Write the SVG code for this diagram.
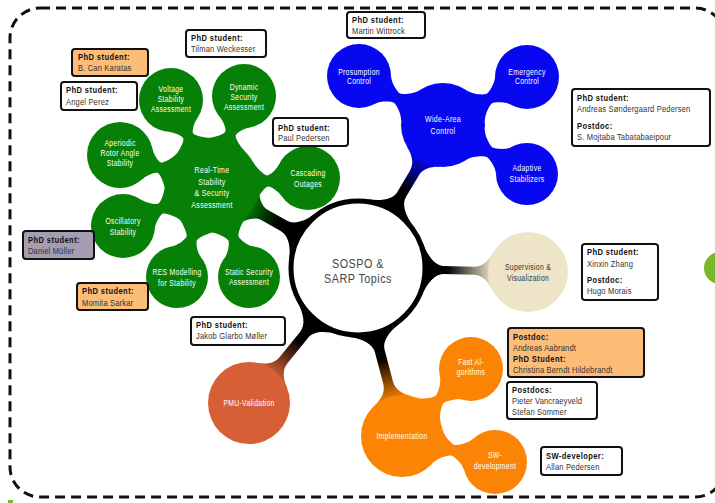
<svg xmlns="http://www.w3.org/2000/svg" width="715" height="503" viewBox="0 0 715 503">
  <style>
    .lbl { font-family: "Liberation Sans", Arial, sans-serif; }
    .nt { fill: #ffffff; font-size: 9px; text-anchor: middle; letter-spacing: 0.4px; }
    .box { fill: #ffffff; stroke: #111111; stroke-width: 2; }
    .box-or { fill: #fbbd78; }
    .box-pu { fill: #a59db2; }
    .hd { fill: #111111; font-size: 9px; font-weight: bold; letter-spacing: 0.5px; }
    .nm { fill: #333333; font-size: 9px; letter-spacing: 0.2px; }
    .green { fill: #078007; }
    .blue { fill: #0707f0; }
    .orange { fill: #fb8404; }
  </style>
  <defs>
    <linearGradient id="gGreen" x1="0" y1="0" x2="1" y2="0">
      <stop offset="0" stop-color="#000"/><stop offset="0.45" stop-color="#000"/><stop offset="1" stop-color="#078007"/>
    </linearGradient>
    <linearGradient id="gBlue" x1="0" y1="0" x2="1" y2="0">
      <stop offset="0" stop-color="#000"/><stop offset="0.4" stop-color="#000"/><stop offset="1" stop-color="#0707f0"/>
    </linearGradient>
    <linearGradient id="gBeige" x1="0" y1="0" x2="1" y2="0">
      <stop offset="0" stop-color="#000"/><stop offset="0.35" stop-color="#000"/><stop offset="1" stop-color="#eee5c9"/>
    </linearGradient>
    <linearGradient id="gPmu" x1="0" y1="0" x2="1" y2="0">
      <stop offset="0" stop-color="#000"/><stop offset="0.4" stop-color="#000"/><stop offset="1" stop-color="#d65f36"/>
    </linearGradient>
    <linearGradient id="gOrange" x1="0" y1="0" x2="1" y2="0">
      <stop offset="0" stop-color="#000"/><stop offset="0.4" stop-color="#000"/><stop offset="1" stop-color="#fb8404"/>
    </linearGradient>
  </defs>

  <!-- dashed frame -->
  <rect x="10" y="8" width="715" height="489" rx="30" fill="none" stroke="#111" stroke-width="3" stroke-dasharray="10 6"/>
  <circle cx="720" cy="268" r="16" fill="#79b828"/>
  <rect x="8" y="500" width="5" height="3" fill="#79b828"/>

  <!-- connectors: each neck is drawn along +x from the parent centre, then rotated into place -->
  <g id="connectors">
    <!-- from the central topic -->
    <path transform="translate(358 268) rotate(-150.4)" fill="url(#gGreen)" d="M64.4,-26C69.7,-13 77.5,-6 85.5,-6L106.9,-6C114.9,-6 121.7,-13.2 126.4,-22L126.4,22C121.7,13.2 114.9,6 106.9,6L85.5,6C77.5,6 69.7,13 64.4,26Z"/>
    <path transform="translate(358 268) rotate(-59.3)" fill="url(#gBlue)" d="M64.4,-26C69.7,-13 77.5,-5 85.5,-5L110.4,-5C118.4,-5 124.6,-10.9 129.3,-19.7L129.3,19.7C124.6,10.9 118.4,5 110.4,5L85.5,5C77.5,5 69.7,13 64.4,26Z"/>
    <path transform="translate(358 268) rotate(1.35)" fill="url(#gBeige)" d="M64.4,-26C69.7,-13 77.5,-4 85.5,-4L116,-4C124,-4 130,-10 134.7,-18.8L134.7,18.8C130,10 124,4 116,4L85.5,4C77.5,4 69.7,13 64.4,26Z"/>
    <path transform="translate(358 268) rotate(128.9)" fill="url(#gPmu)" d="M64.4,-26C69.7,-13 77.5,-5 85.5,-5L118.5,-5C126.5,-5 132.6,-10.4 137.3,-19.2L137.3,19.2C132.6,10.4 126.5,5 118.5,5L85.5,5C77.5,5 69.7,13 64.4,26Z"/>
    <path transform="translate(358 268) rotate(75.3)" fill="url(#gOrange)" d="M64.4,-26C69.7,-13 77.5,-5 85.5,-5L118.7,-5C126.7,-5 132.8,-10.4 137.5,-19.2L137.5,19.2C132.8,10.4 126.7,5 118.7,5L85.5,5C77.5,5 69.7,13 64.4,26Z"/>
    <!-- stability branch -->
    <g class="green">
      <path transform="translate(212 185) rotate(-115.8)" d="M42.6,-19.9C45.1,-14.5 51.7,-5.5 54.7,-5.5C57.7,-5.5 63.7,-10.8 66.7,-16L66.7,16C63.7,10.8 57.7,5.5 54.7,5.5C51.7,5.5 45.1,14.5 42.6,19.9Z"/>
      <path transform="translate(212 185) rotate(-70.2)" d="M42.6,-19.9C45.1,-14.5 51.8,-5.5 54.8,-5.5C57.8,-5.5 63.9,-10.8 66.9,-16L66.9,16C63.9,10.8 57.8,5.5 54.8,5.5C51.8,5.5 45.1,14.5 42.6,19.9Z"/>
      <path transform="translate(212 185) rotate(-161.9)" d="M42.6,-19.9C45.1,-14.5 52.4,-5.5 55.4,-5.5C58.4,-5.5 65.2,-11.3 68.2,-16.5L68.2,16.5C65.2,11.3 58.4,5.5 55.4,5.5C52.4,5.5 45.1,14.5 42.6,19.9Z"/>
      <path transform="translate(212 185) rotate(-4.2)" d="M42.6,-19.9C45.1,-14.5 52.7,-5.5 55.7,-5.5C58.7,-5.5 65.6,-10.8 68.6,-16L68.6,16C65.6,10.8 58.7,5.5 55.7,5.5C52.7,5.5 45.1,14.5 42.6,19.9Z"/>
      <path transform="translate(212 185) rotate(155.3)" d="M42.6,-19.9C45.1,-14.5 53.5,-5.5 56.5,-5.5C59.5,-5.5 67.3,-10.8 70.3,-16L70.3,16C67.3,10.8 59.5,5.5 56.5,5.5C53.5,5.5 45.1,14.5 42.6,19.9Z"/>
      <path transform="translate(212 185) rotate(110.8)" d="M42.6,-19.9C45.1,-14.5 54.2,-5.5 57.2,-5.5C60.2,-5.5 68.6,-10.3 71.6,-15.5L71.6,15.5C68.6,10.3 60.2,5.5 57.2,5.5C54.2,5.5 45.1,14.5 42.6,19.9Z"/>
      <path transform="translate(212 185) rotate(68.1)" d="M42.6,-19.9C45.1,-14.5 54.6,-5.5 57.6,-5.5C60.6,-5.5 69.4,-10.3 72.4,-15.5L72.4,15.5C69.4,10.3 60.6,5.5 57.6,5.5C54.6,5.5 45.1,14.5 42.6,19.9Z"/>
    </g>
    <!-- control branch -->
    <g class="blue">
      <path transform="translate(443 125) rotate(-149.7)" d="M38.1,-17.7C40.6,-12.3 50.6,-5.5 53.6,-5.5C56.6,-5.5 66.5,-10.8 69.5,-16L69.5,16C66.5,10.8 56.6,5.5 53.6,5.5C50.6,5.5 40.6,12.3 38.1,17.7Z"/>
      <path transform="translate(443 125) rotate(-29.7)" d="M38.1,-17.7C40.6,-12.3 50.4,-5.5 53.4,-5.5C56.4,-5.5 66,-10.8 69,-16L69,16C66,10.8 56.4,5.5 53.4,5.5C50.4,5.5 40.6,12.3 38.1,17.7Z"/>
      <path transform="translate(443 125) rotate(30.3)" d="M38.1,-17.7C40.6,-12.3 51.1,-5.5 54.1,-5.5C57.1,-5.5 67.4,-10.3 70.4,-15.5L70.4,15.5C67.4,10.3 57.1,5.5 54.1,5.5C51.1,5.5 40.6,12.3 38.1,17.7Z"/>
    </g>
    <!-- implementation branch -->
    <g class="orange">
      <path transform="translate(402 436) rotate(-44.2)" d="M37.2,-17.3C39.7,-11.9 49.6,-5.5 52.6,-5.5C55.6,-5.5 65.5,-10.8 68.5,-16L68.5,16C65.5,10.8 55.6,5.5 52.6,5.5C49.6,5.5 39.7,11.9 37.2,17.3Z"/>
      <path transform="translate(402 436) rotate(15.6)" d="M37.2,-17.3C39.7,-11.9 49.8,-5.5 52.8,-5.5C55.8,-5.5 65.9,-10.8 68.9,-16L68.9,16C65.9,10.8 55.8,5.5 52.8,5.5C49.8,5.5 39.7,11.9 37.2,17.3Z"/>
    </g>
  </g>

  <!-- central topic -->
  <g id="sospo-sarp" class="lbl">
    <circle cx="358" cy="268" r="67" fill="#fff" stroke="#000" stroke-width="5"/>
    <text transform="translate(358 268) scale(0.8 1)" font-size="13.5" fill="#444" text-anchor="middle" letter-spacing="0.6"><tspan x="0" y="0">SOSPO &amp;</tspan><tspan x="0" y="15">SARP Topics</tspan></text>
  </g>

  <!-- stability branch nodes -->
  <g id="real-time" class="lbl">
    <circle class="green" cx="212" cy="185" r="47"/>
    <text class="nt" font-size="9.5" transform="translate(212 185) scale(0.78 1)"><tspan x="0" y="-12">Real-Time</tspan><tspan x="0" y="0">Stability</tspan><tspan x="0" y="11">&amp; Security</tspan><tspan x="0" y="23">Assessment</tspan></text>
  </g>
  <g id="voltage" class="lbl">
    <circle class="green" cx="171" cy="100" r="32"/>
    <text class="nt" transform="translate(171 100) scale(0.76 1)"><tspan x="0" y="-8">Voltage</tspan><tspan x="0" y="2">Stability</tspan><tspan x="0" y="12">Assessment</tspan></text>
  </g>
  <g id="dynamic" class="lbl">
    <circle class="green" cx="244" cy="96" r="32"/>
    <text class="nt" transform="translate(244 96) scale(0.76 1)"><tspan x="0" y="-6">Dynamic</tspan><tspan x="0" y="4">Security</tspan><tspan x="0" y="14">Assessment</tspan></text>
  </g>
  <g id="aperiodic" class="lbl">
    <circle class="green" cx="120" cy="155" r="33"/>
    <text class="nt" transform="translate(120 155) scale(0.76 1)"><tspan x="0" y="-9">Aperiodic</tspan><tspan x="0" y="1">Rotor Angle</tspan><tspan x="0" y="11">Stability</tspan></text>
  </g>
  <g id="cascading" class="lbl">
    <circle class="green" cx="308" cy="178" r="32"/>
    <text class="nt" transform="translate(308 178) scale(0.76 1)"><tspan x="0" y="-2">Cascading</tspan><tspan x="0" y="9">Outages</tspan></text>
  </g>
  <g id="oscillatory" class="lbl">
    <circle class="green" cx="123" cy="226" r="32"/>
    <text class="nt" transform="translate(123 226) scale(0.76 1)"><tspan x="0" y="-2">Oscillatory</tspan><tspan x="0" y="9">Stability</tspan></text>
  </g>
  <g id="res-modelling" class="lbl">
    <circle class="green" cx="177" cy="277" r="31"/>
    <text class="nt" transform="translate(177 277) scale(0.76 1)"><tspan x="0" y="-2">RES  Modelling</tspan><tspan x="0" y="9">for Stability</tspan></text>
  </g>
  <g id="static-security" class="lbl">
    <circle class="green" cx="249" cy="277" r="31"/>
    <text class="nt" transform="translate(249 277) scale(0.76 1)"><tspan x="0" y="-2">Static Security</tspan><tspan x="0" y="8">Assessment</tspan></text>
  </g>

  <!-- control branch nodes -->
  <g id="wide-area" class="lbl">
    <circle class="blue" cx="443" cy="125" r="42"/>
    <text class="nt" font-size="9.5" transform="translate(443 125) scale(0.78 1)"><tspan x="0" y="-3">Wide-Area</tspan><tspan x="0" y="9">Control</tspan></text>
  </g>
  <g id="prosumption" class="lbl">
    <circle class="blue" cx="359" cy="76" r="32"/>
    <text class="nt" transform="translate(359 76) scale(0.76 1)"><tspan x="0" y="-1">Prosumption</tspan><tspan x="0" y="8">Control</tspan></text>
  </g>
  <g id="emergency" class="lbl">
    <circle class="blue" cx="527" cy="77" r="32"/>
    <text class="nt" transform="translate(527 77) scale(0.76 1)"><tspan x="0" y="-2">Emergency</tspan><tspan x="0" y="7">Control</tspan></text>
  </g>
  <g id="adaptive" class="lbl">
    <circle class="blue" cx="527" cy="174" r="31"/>
    <text class="nt" transform="translate(527 174) scale(0.76 1)"><tspan x="0" y="-3">Adaptive</tspan><tspan x="0" y="8">Stabilizers</tspan></text>
  </g>

  <!-- supervision -->
  <g id="supervision" class="lbl">
    <circle cx="528" cy="272" r="40" fill="#eee5c9"/>
    <text class="nt" style="fill:#333" transform="translate(528 272) scale(0.76 1)"><tspan x="0" y="-2">Supervision &amp;</tspan><tspan x="0" y="9">Visualization</tspan></text>
  </g>

  <!-- PMU -->
  <g id="pmu-validation" class="lbl">
    <circle cx="249" cy="403" r="41" fill="#d65f36"/>
    <text class="nt" transform="translate(249 406) scale(0.76 1)">PMU-Validation</text>
  </g>

  <!-- implementation branch nodes -->
  <g id="implementation" class="lbl">
    <circle class="orange" cx="402" cy="436" r="41"/>
    <text class="nt" transform="translate(402 439) scale(0.76 1)">Implementation</text>
  </g>
  <g id="fast-algorithms" class="lbl">
    <circle class="orange" cx="471" cy="369" r="32"/>
    <text class="nt" transform="translate(471 369) scale(0.76 1)"><tspan x="0" y="-4">Fast Al-</tspan><tspan x="0" y="6">gorithms</tspan></text>
  </g>
  <g id="sw-development" class="lbl">
    <circle class="orange" cx="495" cy="462" r="32"/>
    <text class="nt" transform="translate(495 462) scale(0.76 1)"><tspan x="0" y="-4">SW-</tspan><tspan x="0" y="7">development</tspan></text>
  </g>

  <!-- people -->
  <g id="box-karatas" class="lbl">
    <rect class="box box-or" x="72" y="49" width="76" height="27" rx="3"/>
    <text transform="translate(78 60) scale(0.84 1)"><tspan class="hd" x="0" y="0">PhD student:</tspan><tspan class="nm" x="0" y="11">B. Can Karatas</tspan></text>
  </g>
  <g id="box-perez" class="lbl">
    <rect class="box" x="61" y="82" width="76" height="28" rx="3"/>
    <text transform="translate(66 93) scale(0.84 1)"><tspan class="hd" x="0" y="0">PhD student:</tspan><tspan class="nm" x="0" y="12">Angel Perez</tspan></text>
  </g>
  <g id="box-weckesser" class="lbl">
    <rect class="box" x="186" y="30" width="80" height="27" rx="3"/>
    <text transform="translate(191 41) scale(0.84 1)"><tspan class="hd" x="0" y="0">PhD student:</tspan><tspan class="nm" x="0" y="11">Tilman Weckesser</tspan></text>
  </g>
  <g id="box-pedersen" class="lbl">
    <rect class="box" x="273" y="118" width="75" height="28" rx="3"/>
    <text transform="translate(278 131) scale(0.84 1)"><tspan class="hd" x="0" y="0">PhD student:</tspan><tspan class="nm" x="0" y="10">Paul Pedersen</tspan></text>
  </g>
  <g id="box-wittrock" class="lbl">
    <rect class="box" x="347" y="12" width="78" height="26" rx="3"/>
    <text transform="translate(352 23) scale(0.84 1)"><tspan class="hd" x="0" y="0">PhD student:</tspan><tspan class="nm" x="0" y="11">Martin Wittrock</tspan></text>
  </g>
  <g id="box-wac" class="lbl">
    <rect class="box" x="572" y="89" width="138" height="57" rx="3"/>
    <text transform="translate(577 101) scale(0.84 1)"><tspan class="hd" x="0" y="0">PhD student:</tspan><tspan class="nm" x="0" y="11">Andreas Søndergaard Pedersen</tspan><tspan class="hd" x="0" y="28">Postdoc:</tspan><tspan class="nm" x="0" y="39">S. Mojtaba Tabatabaeipour</tspan></text>
  </g>
  <g id="box-mueller" class="lbl">
    <rect class="box box-pu" x="23" y="231" width="71" height="28" rx="3"/>
    <text transform="translate(28 243) scale(0.84 1)"><tspan class="hd" x="0" y="0">PhD student:</tspan><tspan class="nm" x="0" y="11">Daniel Müller</tspan></text>
  </g>
  <g id="box-sarkar" class="lbl">
    <rect class="box box-or" x="77" y="283" width="71" height="27" rx="3"/>
    <text transform="translate(82 294) scale(0.84 1)"><tspan class="hd" x="0" y="0">PhD student:</tspan><tspan class="nm" x="0" y="12">Momita Sarkar</tspan></text>
  </g>
  <g id="box-moller" class="lbl">
    <rect class="box" x="191" y="317" width="94" height="28" rx="3"/>
    <text transform="translate(196 328) scale(0.84 1)"><tspan class="hd" x="0" y="0">PhD student:</tspan><tspan class="nm" x="0" y="11">Jakob Glarbo Møller</tspan></text>
  </g>
  <g id="box-zhang" class="lbl">
    <rect class="box" x="582" y="244" width="76" height="56" rx="3"/>
    <text transform="translate(587 255) scale(0.84 1)"><tspan class="hd" x="0" y="0">PhD student:</tspan><tspan class="nm" x="0" y="12">Xinxin Zhang</tspan><tspan class="hd" x="0" y="28">Postdoc:</tspan><tspan class="nm" x="0" y="39">Hugo Morais</tspan></text>
  </g>
  <g id="box-aabrandt" class="lbl">
    <rect class="box box-or" x="508" y="328" width="136" height="49" rx="3"/>
    <text transform="translate(513 340) scale(0.84 1)"><tspan class="hd" x="0" y="0">Postdoc:</tspan><tspan class="nm" x="0" y="11">Andreas Aabrandt</tspan><tspan class="hd" x="0" y="22">PhD Student:</tspan><tspan class="nm" x="0" y="33">Christina Berndt Hildebrandt</tspan></text>
  </g>
  <g id="box-postdocs" class="lbl">
    <rect class="box" x="507" y="382" width="90" height="37" rx="3"/>
    <text transform="translate(512 393) scale(0.84 1)"><tspan class="hd" x="0" y="0">Postdocs:</tspan><tspan class="nm" x="0" y="11">Pieter Vancraeyveld</tspan><tspan class="nm" x="0" y="22">Stefan Sommer</tspan></text>
  </g>
  <g id="box-swdev" class="lbl">
    <rect class="box" x="541" y="447" width="81" height="28" rx="3"/>
    <text transform="translate(546 459) scale(0.84 1)"><tspan class="hd" x="0" y="0">SW-developer:</tspan><tspan class="nm" x="0" y="11">Allan Pedersen</tspan></text>
  </g>
</svg>
